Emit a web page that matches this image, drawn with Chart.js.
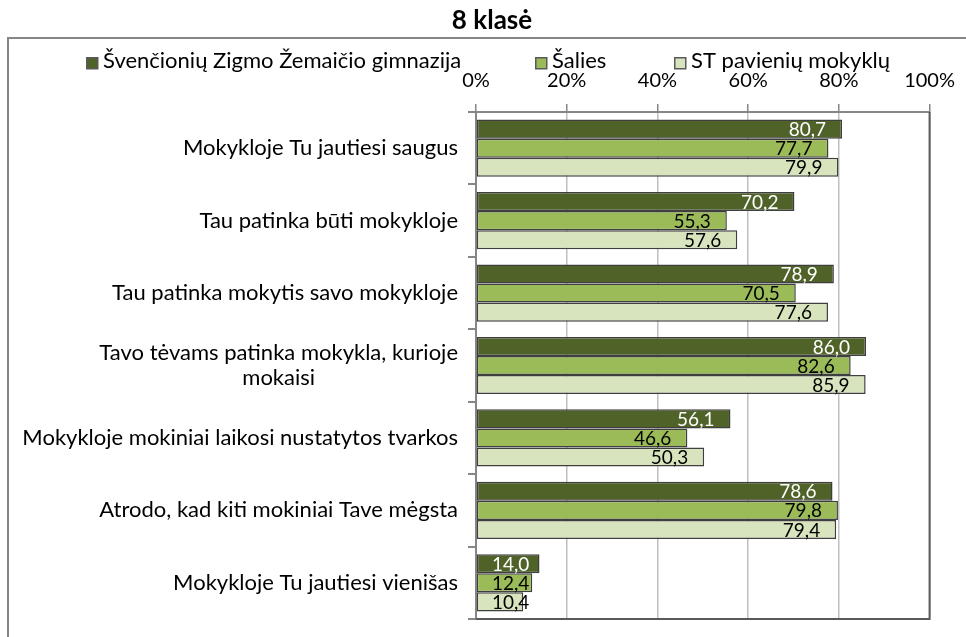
<!DOCTYPE html>
<html>
<head>
<meta charset="utf-8">
<script src="https://cdn.jsdelivr.net/npm/chart.js@4.4.1/dist/chart.umd.min.js"></script>
<style>
  html, body { margin: 0; padding: 0; background: #ffffff; }
  canvas { display: block; }
</style>
</head>
<body>
<canvas id="chart" width="966" height="637"></canvas>
<script>
// Survey answers, 8th grade (percent of positive answers)
const chartTitle = '8 klasė';
const categories = [
  'Mokykloje Tu jautiesi saugus',
  'Tau patinka būti mokykloje',
  'Tau patinka mokytis savo mokykloje',
  ['Tavo tėvams patinka mokykla, kurioje', 'mokaisi'],
  'Mokykloje mokiniai laikosi nustatytos tvarkos',
  'Atrodo, kad kiti mokiniai Tave mėgsta',
  'Mokykloje Tu jautiesi vienišas'
];
const seriesNames = ['Švenčionių Zigmo Žemaičio gimnazija', 'Šalies', 'ST pavienių mokyklų'];
const schoolValues  = [80.7, 70.2, 78.9, 86.0, 56.1, 78.6, 14.0];
const countryValues = [77.7, 55.3, 70.5, 82.6, 46.6, 79.8, 12.4];
const stValues      = [79.9, 57.6, 77.6, 85.9, 50.3, 79.4, 10.4];
const xTickValues   = [0, 20, 40, 60, 80, 100];

const FONT = 'Lato, "Open Sans", sans-serif';
const TEXT_SIZE = 22;   // legend and category labels
const TICK_SIZE = 20;   // percent ticks
const VALUE_SIZE = 19;  // bar value labels
const fills = ['#4F6228', '#9BBB59', '#D7E4BD'];
const labelColors = ['#FFFFFF', '#000000', '#000000'];
const barBorder = '#3F3F3F';
const axisGray = '#868686';

const fmt = v => v.toFixed(1).replace('.', ',');

// Title, legend, frame, category labels and value labels
const decorations = {
  id: 'decorations',
  afterDraw(chart) {
    const ctx = chart.ctx;
    const area = chart.chartArea;
    const yScale = chart.scales.y;
    ctx.save();

    // outer frame (left and top edges)
    ctx.strokeStyle = axisGray;
    ctx.lineWidth = 2;
    ctx.beginPath();
    ctx.moveTo(8, 640);
    ctx.lineTo(8, 38);
    ctx.lineTo(970, 38);
    ctx.stroke();

    // plot frame right / bottom
    ctx.strokeStyle = '#595959';
    ctx.lineWidth = 2;
    ctx.beginPath();
    ctx.moveTo(area.right, area.top);
    ctx.lineTo(area.right, area.bottom);
    ctx.lineTo(area.left, area.bottom);
    ctx.stroke();

    // title
    ctx.fillStyle = '#000000';
    ctx.font = 'bold 26px ' + FONT;
    ctx.textAlign = 'center';
    ctx.textBaseline = 'alphabetic';
    ctx.fillText(chartTitle, 492, 29);

    // legend
    const legendX = [86, 535, 674];
    ctx.font = TEXT_SIZE + 'px ' + FONT;
    ctx.textAlign = 'left';
    seriesNames.forEach((name, i) => {
      ctx.fillStyle = fills[i];
      ctx.fillRect(legendX[i], 57, 12, 12);
      ctx.strokeStyle = '#595959';
      ctx.lineWidth = 1.5;
      ctx.strokeRect(legendX[i] + 0.75, 57.75, 11, 11);
      ctx.fillStyle = '#000000';
      ctx.fillText(name, legendX[i] + 17, 68);
    });

    // category labels
    ctx.textBaseline = 'middle';
    categories.forEach((cat, i) => {
      const y = yScale.getPixelForValue(i);
      if (Array.isArray(cat)) {
        const w = Math.max(...cat.map(l => ctx.measureText(l).width));
        const cx = 458 - w / 2;
        const lh = 25;
        const y0 = y - lh * (cat.length - 1) / 2;
        ctx.textAlign = 'center';
        cat.forEach((line, k) => ctx.fillText(line, cx, y0 + k * lh));
      } else {
        ctx.textAlign = 'right';
        ctx.fillText(cat, 458, y);
      }
    });

    // value labels at the inside end of each bar
    ctx.font = VALUE_SIZE + 'px ' + FONT;
    ctx.textAlign = 'right';
    chart.data.datasets.forEach((ds, di) => {
      const meta = chart.getDatasetMeta(di);
      meta.data.forEach((bar, i) => {
        const txt = fmt(ds.data[i]);
        const w = ctx.measureText(txt).width;
        const xr = Math.max(bar.x - 16, area.left + 16 + w);
        ctx.fillStyle = labelColors[di];
        ctx.fillText(txt, xr, bar.y + 1);
      });
    });

    ctx.restore();
  }
};

new Chart(document.getElementById('chart'), {
  type: 'bar',
  data: {
    labels: categories,
    datasets: [
      { label: seriesNames[0], data: schoolValues },
      { label: seriesNames[1], data: countryValues },
      { label: seriesNames[2], data: stValues }
    ].map((d, i) => Object.assign(d, {
      backgroundColor: fills[i],
      borderColor: barBorder,
      borderWidth: 1.5,
      borderSkipped: false,
      categoryPercentage: 0.79,
      barPercentage: 1.0
    }))
  },
  options: {
    indexAxis: 'y',
    responsive: false,
    animation: false,
    devicePixelRatio: 1,
    layout: { padding: { left: 466, top: 52, right: 36, bottom: 18 } },
    plugins: {
      legend: { display: false },
      title: { display: false },
      tooltip: { enabled: false }
    },
    scales: {
      x: {
        position: 'top',
        min: 0,
        max: 100,
        afterBuildTicks: s => { s.ticks = xTickValues.map(v => ({ value: v })); },
        afterFit: s => { s.height = 60; },
        ticks: {
          callback: v => v + '%',
          color: '#000000',
          font: { family: FONT, size: TICK_SIZE },
          padding: 11,
          maxRotation: 0
        },
        grid: {
          color: '#BFBFBF',
          lineWidth: 1.5,
          tickColor: axisGray,
          tickLength: 8
        },
        border: { color: axisGray, width: 2 }
      },
      y: {
        afterFit: s => { s.width = 10; },
        ticks: { display: false },
        grid: {
          offset: true,
          drawOnChartArea: false,
          tickColor: axisGray,
          tickLength: 8,
          lineWidth: 2
        },
        border: { color: axisGray, width: 2 }
      }
    }
  },
  plugins: [decorations]
});
</script>
</body>
</html>
